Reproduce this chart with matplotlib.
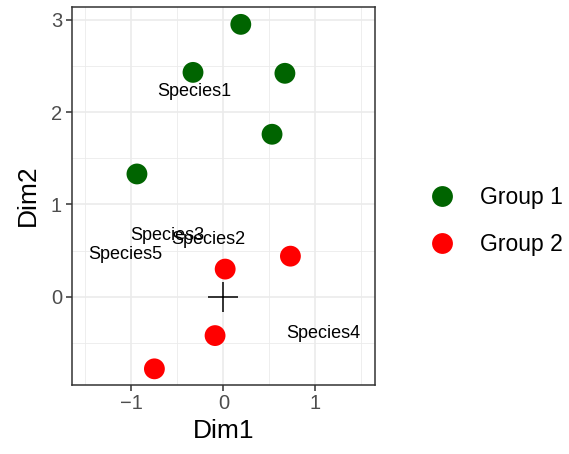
import numpy as np
import matplotlib
matplotlib.use("Agg")
import matplotlib.pyplot as plt
from matplotlib.lines import Line2D

plt.rcParams["font.family"] = ["Liberation Sans", "DejaVu Sans"]

# group points
g1_x = [0.19, -0.33, 0.67, 0.53, -0.94]
g1_y = [2.95, 2.43, 2.42, 1.76, 1.33]
g2_x = [0.02, 0.73, -0.09, -0.75]
g2_y = [0.30, 0.44, -0.42, -0.78]

# species labels
species = ["Species1", "Species2", "Species3", "Species4", "Species5"]
sp_x = [-0.32, -0.16, -0.61, 1.09, -1.07]
sp_y = [2.22, 0.62, 0.66, -0.40, 0.46]

group_names = ["Group 1", "Group 2"]
group_colors = ["#006400", "#FF0000"]

fig = plt.figure(figsize=(5.69, 4.54), dpi=100)
ax = fig.add_axes([0.126, 0.153, 0.533, 0.832])

ax.set_xlim(-1.65, 1.65)
ax.set_ylim(-0.95, 3.14)

# grid, theme_bw style
for v in [-1.5, -0.5, 0.5, 1.5]:
    ax.axvline(v, color="#EBEBEB", lw=0.6, zorder=0)
for v in [-0.5, 0.5, 1.5, 2.5]:
    ax.axhline(v, color="#EBEBEB", lw=0.6, zorder=0)
for v in [-1, 0, 1]:
    ax.axvline(v, color="#EBEBEB", lw=1.2, zorder=0)
for v in [0, 1, 2, 3]:
    ax.axhline(v, color="#EBEBEB", lw=1.2, zorder=0)

ax.scatter(g1_x, g1_y, s=225, color=group_colors[0], edgecolors="none", zorder=3)
ax.scatter(g2_x, g2_y, s=225, color=group_colors[1], edgecolors="none", zorder=3)
ax.plot([0], [0], marker="+", markersize=21, markeredgewidth=1.1, color="black", zorder=4)

for name, x, y in zip(species, sp_x, sp_y):
    ax.text(x, y, name, fontsize=13, ha="center", va="center", color="black", zorder=5)

ax.set_xticks([-1, 0, 1])
ax.set_xticklabels(["\u22121", "0", "1"])
ax.set_yticks([0, 1, 2, 3])
ax.tick_params(axis="both", labelsize=14.5, labelcolor="#4D4D4D", color="#333333",
               length=4, width=1.1, pad=3)
for s in ax.spines.values():
    s.set_color("#333333")
    s.set_linewidth(1.1)

ax.set_xlabel("Dim1", fontsize=19, labelpad=4)
ax.set_ylabel("Dim2", fontsize=19, labelpad=8)

handles = [Line2D([], [], marker="o", linestyle="none", markersize=15,
                  markerfacecolor=c, markeredgecolor="none") for c in group_colors]
fig.legend(handles, group_names, loc="center left", bbox_to_anchor=(0.733, 0.514),
           frameon=False, fontsize=16.5, handletextpad=1.05, labelspacing=1.05,
           borderpad=0, handlelength=1.2)

fig.savefig("out.png", dpi=100)
